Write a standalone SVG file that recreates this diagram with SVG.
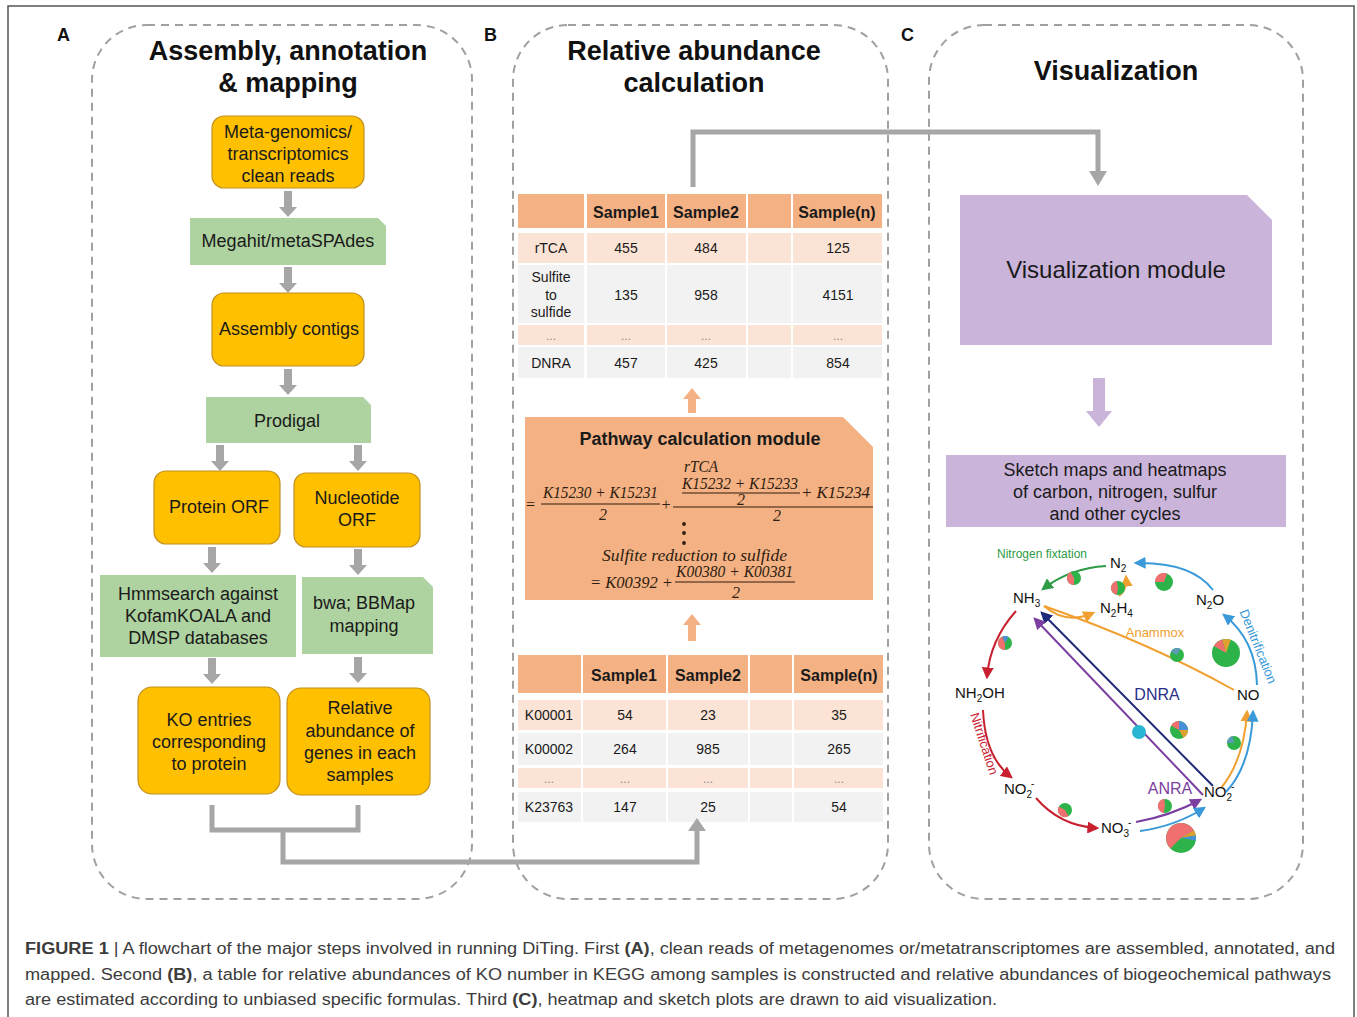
<svg xmlns="http://www.w3.org/2000/svg" xmlns:xlink="http://www.w3.org/1999/xlink" width="1357" height="1017" viewBox="0 0 1357 1017">
<defs>
<style>
.t{font-family:"Liberation Sans",Arial,sans-serif;fill:#1a1a1a}
.ttl{font-family:"Liberation Sans",Arial,sans-serif;font-weight:bold;font-size:27px;fill:#111;text-anchor:middle}
.lbl{font-family:"Liberation Sans",Arial,sans-serif;font-weight:bold;font-size:18px;fill:#111}
.bx{font-family:"Liberation Sans",Arial,sans-serif;font-size:18px;fill:#1a1a1a;text-anchor:middle}
.panel{fill:none;stroke:#a0a0a0;stroke-width:2;stroke-dasharray:8 6}
.orange{fill:#FFC000;stroke:#C09020;stroke-width:1.2}
.green{fill:#AED3A0}
.purple{fill:#CBB4DA}
.hd{fill:#F4B183}
.rp{fill:#FBE4D5}
.rg{fill:#F2F2F2}
.th{font-family:"Liberation Sans",Arial,sans-serif;font-weight:bold;font-size:16px;fill:#1a1a1a;text-anchor:middle}
.td{font-family:"Liberation Sans",Arial,sans-serif;font-size:14px;fill:#1a1a1a;text-anchor:middle}
.dots{font-family:"Liberation Sans",Arial,sans-serif;font-size:12px;fill:#888;text-anchor:middle}
.gline{fill:none;stroke:#A6A6A6;stroke-width:5}
.garr{fill:#A6A6A6}
.oarr{fill:#F4B183}
.m{font-family:"Liberation Serif","Times New Roman",serif;font-style:italic;font-size:16px;fill:#2e1d10}
.mu{font-family:"Liberation Serif","Times New Roman",serif;font-size:16px;fill:#2e1d10}
.bar{stroke:#2e1d10;stroke-width:1.1}
.chem{font-family:"Liberation Sans",Arial,sans-serif;font-size:15px;fill:#111}
.cyc{fill:none;stroke-width:2}
.cap{font-family:"Liberation Sans",Arial,sans-serif;font-size:16px;fill:#3c3c3c}
</style>
<polygon id="garrow" points="-4,0 4,0 4,16 9,16 0,26 -9,16 -4,16"/>
<marker id="mG" viewBox="0 0 10 10" refX="8" refY="5" markerWidth="6" markerHeight="6" orient="auto"><path d="M0,0 L10,5 L0,10 Z" fill="#2E9B47"/></marker>
<marker id="mB" viewBox="0 0 10 10" refX="8" refY="5" markerWidth="6" markerHeight="6" orient="auto"><path d="M0,0 L10,5 L0,10 Z" fill="#3A9AD9"/></marker>
<marker id="mO" viewBox="0 0 10 10" refX="8" refY="5" markerWidth="6" markerHeight="6" orient="auto"><path d="M0,0 L10,5 L0,10 Z" fill="#F0A030"/></marker>
<marker id="mR" viewBox="0 0 10 10" refX="8" refY="5" markerWidth="6" markerHeight="6" orient="auto"><path d="M0,0 L10,5 L0,10 Z" fill="#C8202F"/></marker>
<marker id="mN" viewBox="0 0 10 10" refX="8" refY="5" markerWidth="6" markerHeight="6" orient="auto"><path d="M0,0 L10,5 L0,10 Z" fill="#1F2A7A"/></marker>
<marker id="mP" viewBox="0 0 10 10" refX="8" refY="5" markerWidth="6" markerHeight="6" orient="auto"><path d="M0,0 L10,5 L0,10 Z" fill="#7A3FA0"/></marker>
</defs>

<rect x="0" y="0" width="1357" height="1017" fill="#ffffff"/>
<rect x="8" y="6" width="1346" height="1020" fill="none" stroke="#555" stroke-width="1.5"/>

<!-- panels -->
<g id="panelA">
<rect class="panel" x="92" y="25" width="380" height="874" rx="55"/>
<text class="lbl" x="57" y="41">A</text>
<text class="ttl" x="288" y="60">Assembly, annotation</text>
<text class="ttl" x="288" y="92">&amp; mapping</text>
</g>
<g id="panelB">
<rect class="panel" x="513" y="25" width="375" height="874" rx="55"/>
<text class="lbl" x="484" y="41">B</text>
<text class="ttl" x="694" y="60">Relative abundance</text>
<text class="ttl" x="694" y="92">calculation</text>
</g>
<g id="panelC">
<rect class="panel" x="929" y="25" width="374" height="874" rx="55"/>
<text class="lbl" x="901" y="41">C</text>
<text class="ttl" x="1116" y="80">Visualization</text>
</g>

<!-- Panel A nodes -->
<g id="reads">
<rect class="orange" x="212" y="116" width="152" height="72" rx="12"/>
<text class="bx" x="288" y="138">Meta-genomics/</text>
<text class="bx" x="288" y="160">transcriptomics</text>
<text class="bx" x="288" y="182">clean reads</text>
</g>
<g id="megahit">
<path class="green" d="M190,218 H378 L386,226 V265 H190 Z"/>
<text class="bx" x="288" y="247">Megahit/metaSPAdes</text>
</g>
<g id="contigs">
<rect class="orange" x="212" y="293" width="152" height="73" rx="12"/>
<text class="bx" x="289" y="335">Assembly contigs</text>
</g>
<g id="prodigal">
<path class="green" d="M206,397 H363 L371,405 V443 H206 Z"/>
<text class="bx" x="287" y="427">Prodigal</text>
</g>
<g id="protein">
<rect class="orange" x="154" y="471" width="126" height="73" rx="12"/>
<text class="bx" x="219" y="513">Protein ORF</text>
</g>
<g id="nucleotide">
<rect class="orange" x="294" y="473" width="126" height="74" rx="12"/>
<text class="bx" x="357" y="504">Nucleotide</text>
<text class="bx" x="357" y="526">ORF</text>
</g>
<g id="hmmsearch">
<rect class="green" x="100" y="575" width="196" height="82"/>
<text class="bx" x="198" y="600">Hmmsearch against</text>
<text class="bx" x="198" y="622">KofamKOALA and</text>
<text class="bx" x="198" y="644">DMSP databases</text>
</g>
<g id="bwa">
<path class="green" d="M302,577 H423 L433,587 V654 H302 Z"/>
<text class="bx" x="364" y="609">bwa; BBMap</text>
<text class="bx" x="364" y="632">mapping</text>
</g>
<g id="koentries">
<rect class="orange" x="138" y="687" width="142" height="107" rx="14"/>
<text class="bx" x="209" y="726">KO entries</text>
<text class="bx" x="209" y="748">corresponding</text>
<text class="bx" x="209" y="770">to protein</text>
</g>
<g id="relabund">
<rect class="orange" x="287" y="688" width="143" height="107" rx="14"/>
<text class="bx" x="360" y="714">Relative</text>
<text class="bx" x="360" y="737">abundance of</text>
<text class="bx" x="360" y="759">genes in each</text>
<text class="bx" x="360" y="781">samples</text>
</g>

<!-- Panel B nodes -->
<g id="pathwayTable">
<rect class="hd" x="518" y="194" width="66" height="34"/>
<rect class="hd" x="587" y="194" width="78" height="34"/>
<rect class="hd" x="667" y="194" width="79" height="34"/>
<rect class="hd" x="748" y="194" width="43" height="34"/>
<rect class="hd" x="793" y="194" width="89" height="34"/>
<rect class="rp" x="518" y="233" width="66" height="30"/>
<rect class="rp" x="587" y="233" width="78" height="30"/>
<rect class="rp" x="667" y="233" width="79" height="30"/>
<rect class="rp" x="748" y="233" width="43" height="30"/>
<rect class="rp" x="793" y="233" width="89" height="30"/>
<rect class="rg" x="518" y="265" width="66" height="58"/>
<rect class="rg" x="587" y="265" width="78" height="58"/>
<rect class="rg" x="667" y="265" width="79" height="58"/>
<rect class="rg" x="748" y="265" width="43" height="58"/>
<rect class="rg" x="793" y="265" width="89" height="58"/>
<rect class="rp" x="518" y="325" width="66" height="20"/>
<rect class="rp" x="587" y="325" width="78" height="20"/>
<rect class="rp" x="667" y="325" width="79" height="20"/>
<rect class="rp" x="748" y="325" width="43" height="20"/>
<rect class="rp" x="793" y="325" width="89" height="20"/>
<rect class="rg" x="518" y="347" width="66" height="31"/>
<rect class="rg" x="587" y="347" width="78" height="31"/>
<rect class="rg" x="667" y="347" width="79" height="31"/>
<rect class="rg" x="748" y="347" width="43" height="31"/>
<rect class="rg" x="793" y="347" width="89" height="31"/>
<text class="th" x="626" y="218">Sample1</text>
<text class="th" x="706" y="218">Sample2</text>
<text class="th" x="837" y="218">Sample(n)</text>
<text class="td" x="551" y="253">rTCA</text>
<text class="td" x="626" y="253">455</text>
<text class="td" x="706" y="253">484</text>
<text class="td" x="838" y="253">125</text>
<text class="td" x="551" y="282">Sulfite</text>
<text class="td" x="551" y="300">to</text>
<text class="td" x="551" y="317">sulfide</text>
<text class="td" x="626" y="300">135</text>
<text class="td" x="706" y="300">958</text>
<text class="td" x="838" y="300">4151</text>
<text class="dots" x="551" y="340">...</text>
<text class="dots" x="626" y="340">...</text>
<text class="dots" x="706" y="340">...</text>
<text class="dots" x="838" y="340">...</text>
<text class="td" x="551" y="368">DNRA</text>
<text class="td" x="626" y="368">457</text>
<text class="td" x="706" y="368">425</text>
<text class="td" x="838" y="368">854</text>
</g>

<g id="pathwayModule">
<path class="hd" d="M525,417 H843 L873,447 V600 H525 Z"/>
<text class="t" x="700" y="445" text-anchor="middle" font-weight="bold" font-size="18">Pathway calculation module</text>
<text class="m" x="684" y="472" textLength="34" lengthAdjust="spacingAndGlyphs">rTCA</text>
<text class="mu" x="526" y="510">=</text>
<text class="m" x="543" y="498" textLength="115" lengthAdjust="spacingAndGlyphs">K15230 + K15231</text>
<line class="bar" x1="541" y1="504" x2="660" y2="504"/>
<text class="m" x="603" y="520" text-anchor="middle">2</text>
<text class="mu" x="666" y="510" text-anchor="middle">+</text>
<text class="m" x="682" y="489" textLength="116" lengthAdjust="spacingAndGlyphs">K15232 + K15233</text>
<line class="bar" x1="682" y1="493" x2="800" y2="493"/>
<text class="m" x="741" y="505" text-anchor="middle">2</text>
<text class="m" x="801" y="498" textLength="69" lengthAdjust="spacingAndGlyphs">+ K15234</text>
<line class="bar" x1="673" y1="507" x2="873" y2="507"/>
<text class="m" x="777" y="521" text-anchor="middle">2</text>
<circle cx="684" cy="524" r="1.9" fill="#2e1d10"/>
<circle cx="684" cy="533" r="1.9" fill="#2e1d10"/>
<circle cx="684" cy="543" r="1.9" fill="#2e1d10"/>
<text class="m" x="602" y="561" textLength="185" lengthAdjust="spacingAndGlyphs">Sulfite reduction to sulfide</text>
<text class="m" x="590" y="588" textLength="83" lengthAdjust="spacingAndGlyphs">= K00392 +</text>
<text class="m" x="676" y="577" textLength="117" lengthAdjust="spacingAndGlyphs">K00380 + K00381</text>
<line class="bar" x1="675" y1="582" x2="795" y2="582"/>
<text class="m" x="736" y="598" text-anchor="middle">2</text>
</g>

<g id="koTable">
<rect class="hd" x="518" y="655" width="63" height="38"/>
<rect class="hd" x="583" y="655" width="83" height="38"/>
<rect class="hd" x="668" y="655" width="80" height="38"/>
<rect class="hd" x="750" y="655" width="42" height="38"/>
<rect class="hd" x="794" y="655" width="89" height="38"/>
<rect class="rp" x="518" y="700" width="63" height="30"/>
<rect class="rp" x="583" y="700" width="83" height="30"/>
<rect class="rp" x="668" y="700" width="80" height="30"/>
<rect class="rp" x="750" y="700" width="42" height="30"/>
<rect class="rp" x="794" y="700" width="89" height="30"/>
<rect class="rg" x="518" y="733" width="63" height="32"/>
<rect class="rg" x="583" y="733" width="83" height="32"/>
<rect class="rg" x="668" y="733" width="80" height="32"/>
<rect class="rg" x="750" y="733" width="42" height="32"/>
<rect class="rg" x="794" y="733" width="89" height="32"/>
<rect class="rp" x="518" y="768" width="63" height="20"/>
<rect class="rp" x="583" y="768" width="83" height="20"/>
<rect class="rp" x="668" y="768" width="80" height="20"/>
<rect class="rp" x="750" y="768" width="42" height="20"/>
<rect class="rp" x="794" y="768" width="89" height="20"/>
<rect class="rg" x="518" y="792" width="63" height="30"/>
<rect class="rg" x="583" y="792" width="83" height="30"/>
<rect class="rg" x="668" y="792" width="80" height="30"/>
<rect class="rg" x="750" y="792" width="42" height="30"/>
<rect class="rg" x="794" y="792" width="89" height="30"/>
<text class="th" x="624" y="681">Sample1</text>
<text class="th" x="708" y="681">Sample2</text>
<text class="th" x="839" y="681">Sample(n)</text>
<text class="td" x="549" y="720">K00001</text>
<text class="td" x="625" y="720">54</text>
<text class="td" x="708" y="720">23</text>
<text class="td" x="839" y="720">35</text>
<text class="td" x="549" y="754">K00002</text>
<text class="td" x="625" y="754">264</text>
<text class="td" x="708" y="754">985</text>
<text class="td" x="839" y="754">265</text>
<text class="dots" x="549" y="783">...</text>
<text class="dots" x="625" y="783">...</text>
<text class="dots" x="708" y="783">...</text>
<text class="dots" x="839" y="783">...</text>
<text class="td" x="549" y="812">K23763</text>
<text class="td" x="625" y="812">147</text>
<text class="td" x="708" y="812">25</text>
<text class="td" x="839" y="812">54</text>
</g>

<!-- Panel C nodes -->
<g id="vismodule">
<path class="purple" d="M960,195 H1247 L1272,220 V345 H960 Z"/>
<text class="t" x="1116" y="278" text-anchor="middle" font-size="24">Visualization module</text>
</g>
<g id="sketch">
<rect class="purple" x="946" y="455" width="340" height="72"/>
<text class="bx" x="1115" y="476">Sketch maps and heatmaps</text>
<text class="bx" x="1115" y="498">of carbon, nitrogen, sulfur</text>
<text class="bx" x="1115" y="520">and other cycles</text>
</g>

<g id="nitrogenCycle">
<!-- arrows -->
<path class="cyc" stroke="#2E9B47" marker-end="url(#mG)" d="M1106,566 Q1070,568 1043,589"/>
<path class="cyc" stroke="#3A9AD9" marker-end="url(#mB)" d="M1213,590 Q1192,562 1136,563"/>
<path class="cyc" stroke="#3A9AD9" marker-end="url(#mB)" d="M1257,685 Q1256,640 1224,615"/>
<path class="cyc" stroke="#F0A030" marker-end="url(#mO)" d="M1119,596 Q1127,590 1126,577"/>
<path class="cyc" stroke="#F0A030" marker-end="url(#mO)" d="M1044,606 Q1066,625 1093,613"/>
<path class="cyc" stroke="#F0A030" d="M1234,690 Q1150,643 1044,606"/>
<path class="cyc" stroke="#1F2A7A" marker-end="url(#mN)" d="M1213,786 L1042,613"/>
<path class="cyc" stroke="#7A3FA0" marker-end="url(#mP)" d="M1203,795 L1035,619"/>
<path class="cyc" stroke="#C8202F" marker-end="url(#mR)" d="M1016,611 Q990,640 987,677"/>
<path class="cyc" stroke="#C8202F" marker-end="url(#mR)" d="M983,710 Q985,757 1011,777"/>
<path class="cyc" stroke="#C8202F" marker-end="url(#mR)" d="M1036,798 Q1060,826 1097,828"/>
<path class="cyc" stroke="#7A3FA0" marker-end="url(#mP)" d="M1136,822 Q1170,816 1200,800"/>
<path class="cyc" stroke="#3A9AD9" marker-end="url(#mB)" d="M1140,831 Q1176,826 1204,808"/>
<path class="cyc" stroke="#F0A030" marker-end="url(#mO)" d="M1221,788 Q1244,760 1247,712"/>
<path class="cyc" stroke="#3A9AD9" marker-end="url(#mB)" d="M1226,792 Q1251,765 1253,712"/>
<!-- pies -->
<g>
<circle cx="1074" cy="578" r="7" fill="#2DB34A"/><path d="M1074,578 L1074,585 A7,7 0 0 1 1070.5,571.9 Z" fill="#F07070"/>
<circle cx="1118" cy="588" r="7" fill="#2DB34A"/><path d="M1118,588 L1116.8,594.9 A7,7 0 0 1 1116.8,581.1 Z" fill="#F07070"/>
<circle cx="1164" cy="582" r="9" fill="#2DB34A"/><path d="M1164,582 L1155,582 A9,9 0 0 1 1167.1,573.5 Z" fill="#F07070"/>
<circle cx="1005" cy="643" r="7" fill="#2DB34A"/><path d="M1005,643 L1005,650 A7,7 0 0 1 1002.6,636.4 Z" fill="#F07070"/><path d="M1005,643 L1002.6,636.4 A7,7 0 0 1 1008.5,636.9 Z" fill="#4A90D9"/>
<circle cx="1177" cy="655" r="7" fill="#2DB34A"/><path d="M1177,655 L1170.9,651.5 A7,7 0 0 1 1180.5,648.9 Z" fill="#5C9AB8"/>
<circle cx="1226" cy="653" r="14" fill="#2DB34A"/><path d="M1226,653 L1213.9,646 A14,14 0 0 1 1222.4,639.5 Z" fill="#F07070"/><path d="M1226,653 L1222.4,639.5 A14,14 0 0 1 1230.8,639.8 Z" fill="#E0A030"/>
<circle cx="1139" cy="732" r="7" fill="#29B6D3"/>
<circle cx="1179" cy="730" r="9" fill="#2DB34A"/><path d="M1179,730 L1179,721 A9,9 0 0 1 1188,730 Z" fill="#4A90D9"/><path d="M1179,730 L1188,730 A9,9 0 0 1 1183.5,737.8 Z" fill="#E0A030"/><path d="M1179,730 L1171.2,725.5 A9,9 0 0 1 1179,721 Z" fill="#F07070"/>
<circle cx="1234" cy="743" r="7" fill="#2DB34A"/><path d="M1234,743 L1227,743 A7,7 0 0 1 1232.8,736.1 Z" fill="#5C9AB8"/>
<circle cx="1065" cy="810" r="7" fill="#2DB34A"/><path d="M1065,810 L1068.5,816.1 A7,7 0 0 1 1058.9,806.5 Z" fill="#F07070"/>
<circle cx="1165" cy="806" r="7" fill="#2DB34A"/><path d="M1165,806 L1163.8,812.9 A7,7 0 0 1 1164.4,799 Z" fill="#F07070"/>
<circle cx="1181" cy="838" r="15" fill="#2DB34A"/><path d="M1181,838 L1170.4,848.6 A15,15 0 1 1 1194,830.5 Z" fill="#F07070"/><path d="M1181,838 L1194,830.5 A15,15 0 0 1 1195.8,835.4 Z" fill="#E0A030"/><path d="M1181,838 L1195.8,835.4 A15,15 0 0 1 1195.8,840.6 Z" fill="#4A90D9"/>
</g>
<!-- labels -->
<text class="t" x="1042" y="558" text-anchor="middle" font-size="12" style="fill:#2E9B47">Nitrogen fixtation</text>
<text class="t" x="1155" y="637" text-anchor="middle" font-size="13" style="fill:#F0A030">Anammox</text>
<text class="t" x="0" y="0" text-anchor="middle" font-size="13" style="fill:#3A9AD9" transform="translate(1254,648) rotate(68)">Denitrification</text>
<text class="t" x="0" y="0" text-anchor="middle" font-size="13" style="fill:#C8202F" transform="translate(980,745) rotate(72)">Nitrification</text>
<text class="t" x="1157" y="700" text-anchor="middle" font-size="16" style="fill:#2a2f8a">DNRA</text>
<text class="t" x="1170" y="794" text-anchor="middle" font-size="16" style="fill:#7A3FA0">ANRA</text>
<text class="chem" x="1110" y="568">N<tspan font-size="10" dy="4">2</tspan></text>
<text class="chem" x="1013" y="603">NH<tspan font-size="10" dy="4">3</tspan></text>
<text class="chem" x="1100" y="613">N<tspan font-size="10" dy="4">2</tspan><tspan dy="-4">H</tspan><tspan font-size="10" dy="4">4</tspan></text>
<text class="chem" x="1196" y="605">N<tspan font-size="10" dy="4">2</tspan><tspan dy="-4">O</tspan></text>
<text class="chem" x="955" y="698" font-size="16">NH<tspan font-size="10" dy="4">2</tspan><tspan dy="-4">OH</tspan></text>
<text class="chem" x="1237" y="700">NO</text>
<text class="chem" x="1004" y="794">NO<tspan font-size="10" dy="4">2</tspan><tspan font-size="10" dx="-1" dy="-11">-</tspan></text>
<text class="chem" x="1204" y="797">NO<tspan font-size="10" dy="4">2</tspan><tspan font-size="10" dx="-1" dy="-11">-</tspan></text>
<text class="chem" x="1101" y="833">NO<tspan font-size="10" dy="4">3</tspan><tspan font-size="10" dx="-1" dy="-11">-</tspan></text>
</g>

<!-- connectors -->
<g id="connectors">
<use href="#garrow" class="garr" x="288" y="191"/>
<use href="#garrow" class="garr" x="288" y="267"/>
<use href="#garrow" class="garr" x="288" y="369"/>
<use href="#garrow" class="garr" x="220" y="445"/>
<use href="#garrow" class="garr" x="358" y="445"/>
<use href="#garrow" class="garr" x="212" y="547"/>
<use href="#garrow" class="garr" x="358" y="549"/>
<use href="#garrow" class="garr" x="212" y="658"/>
<use href="#garrow" class="garr" x="358" y="657"/>
<path class="gline" d="M212,805 V830 H358 V805"/>
<path class="gline" d="M283,830 V862 H697 V829"/>
<polygon class="garr" points="688,831 706,831 697,818"/>
<path class="gline" d="M693,187 V132 H1098 V172"/>
<polygon class="garr" points="1089,171 1107,171 1098,186"/>
<polygon class="oarr" points="692,388 701,399 696,399 696,413 688,413 688,399 683,399"/>
<polygon class="oarr" points="692,614 701,625 696,625 696,641 688,641 688,625 683,625"/>
<polygon fill="#CBB4DA" points="1093,378 1105,378 1105,411 1112,411 1099,427 1086,411 1093,411"/>
</g>

<!-- caption -->
<text class="cap" x="25" y="954" textLength="1310" lengthAdjust="spacingAndGlyphs"><tspan font-weight="bold">FIGURE 1</tspan> | A flowchart of the major steps involved in running DiTing. First <tspan font-weight="bold">(A)</tspan>, clean reads of metagenomes or/metatranscriptomes are assembled, annotated, and</text>
<text class="cap" x="25" y="980" textLength="1306" lengthAdjust="spacingAndGlyphs">mapped. Second <tspan font-weight="bold">(B)</tspan>, a table for relative abundances of KO number in KEGG among samples is constructed and relative abundances of biogeochemical pathways</text>
<text class="cap" x="25" y="1005" textLength="972" lengthAdjust="spacingAndGlyphs">are estimated according to unbiased specific formulas. Third <tspan font-weight="bold">(C)</tspan>, heatmap and sketch plots are drawn to aid visualization.</text>
</svg>
